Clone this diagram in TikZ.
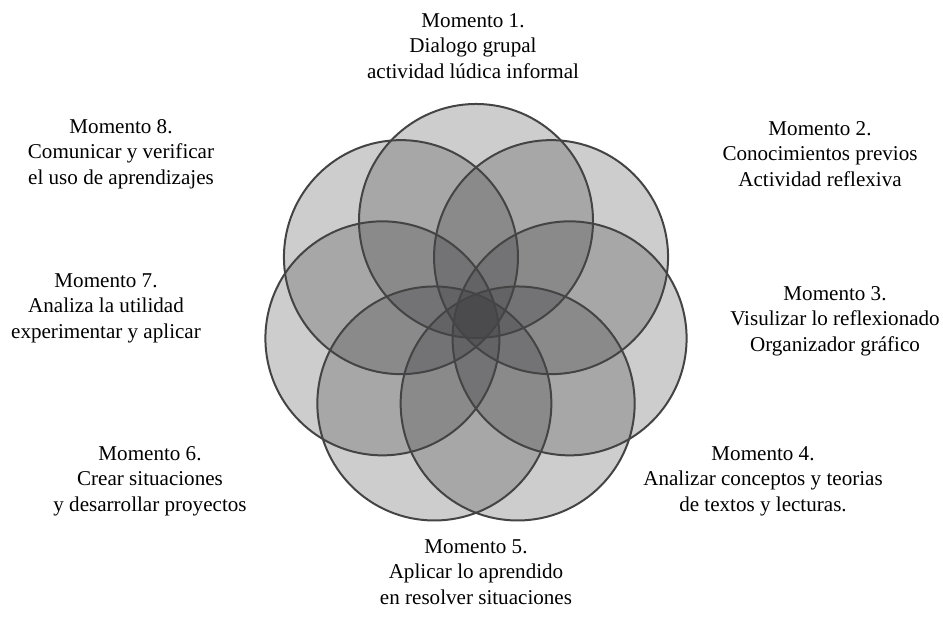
\documentclass[tikz,border=0pt]{standalone}
\usepackage{fontspec}
\setmainfont{Liberation Serif}
\usepackage{xcolor}
\usetikzlibrary{calc}
\definecolor{petalfill}{rgb}{0.17,0.17,0.18}
\definecolor{petaledge}{HTML}{444444}

\tikzset{
  petal/.style = {fill=petalfill, fill opacity=0.235},
  rim/.style = {draw=petaledge, line width=0.04cm},
  moment/.style = {align=center, inner sep=0pt,
    font=\fontsize{12}{14.5}\selectfont},
}

\begin{document}
\begin{tikzpicture}[x=0.02cm, y=0.02cm]
  \useasboundingbox (0,0) rectangle (943,624);
  \coordinate (c) at (476,307);

  % seven overlapping circles
  \foreach \k in {0,...,6} {
    \fill[petal] ($(c)+({90-\k*360/7}:96)$) circle [radius=117];
  }
  \foreach \k in {0,...,6} {
    \draw[rim] ($(c)+({90-\k*360/7}:96)$) circle [radius=117];
  }

  \node[moment] (m1) at (473,578) {Momento 1.\\ Dialogo grupal\\ actividad lúdica informal};
  \node[moment] (m2) at (820,470) {Momento 2.\\ Conocimientos previos\\ Actividad reflexiva};
  \node[moment] (m3) at (835,303) {Momento 3.\\ Visulizar lo reflexionado\\ Organizador gráfico};
  \node[moment] (m4) at (763,143) {Momento 4.\\ Analizar conceptos y teorias\\ de textos y lecturas.};
  \node[moment] (m5) at (476,52) {Momento 5.\\ Aplicar lo aprendido\\ en resolver situaciones};
  \node[moment] (m6) at (150,143) {Momento 6.\\ Crear situaciones\\ y desarrollar proyectos};
  \node[moment] (m7) at (106,316) {Momento 7.\\ Analiza la utilidad\\ experimentar y aplicar};
  \node[moment] (m8) at (121,470) {Momento 8.\\ Comunicar y verificar\\ el uso de aprendizajes};
\end{tikzpicture}
\end{document}
